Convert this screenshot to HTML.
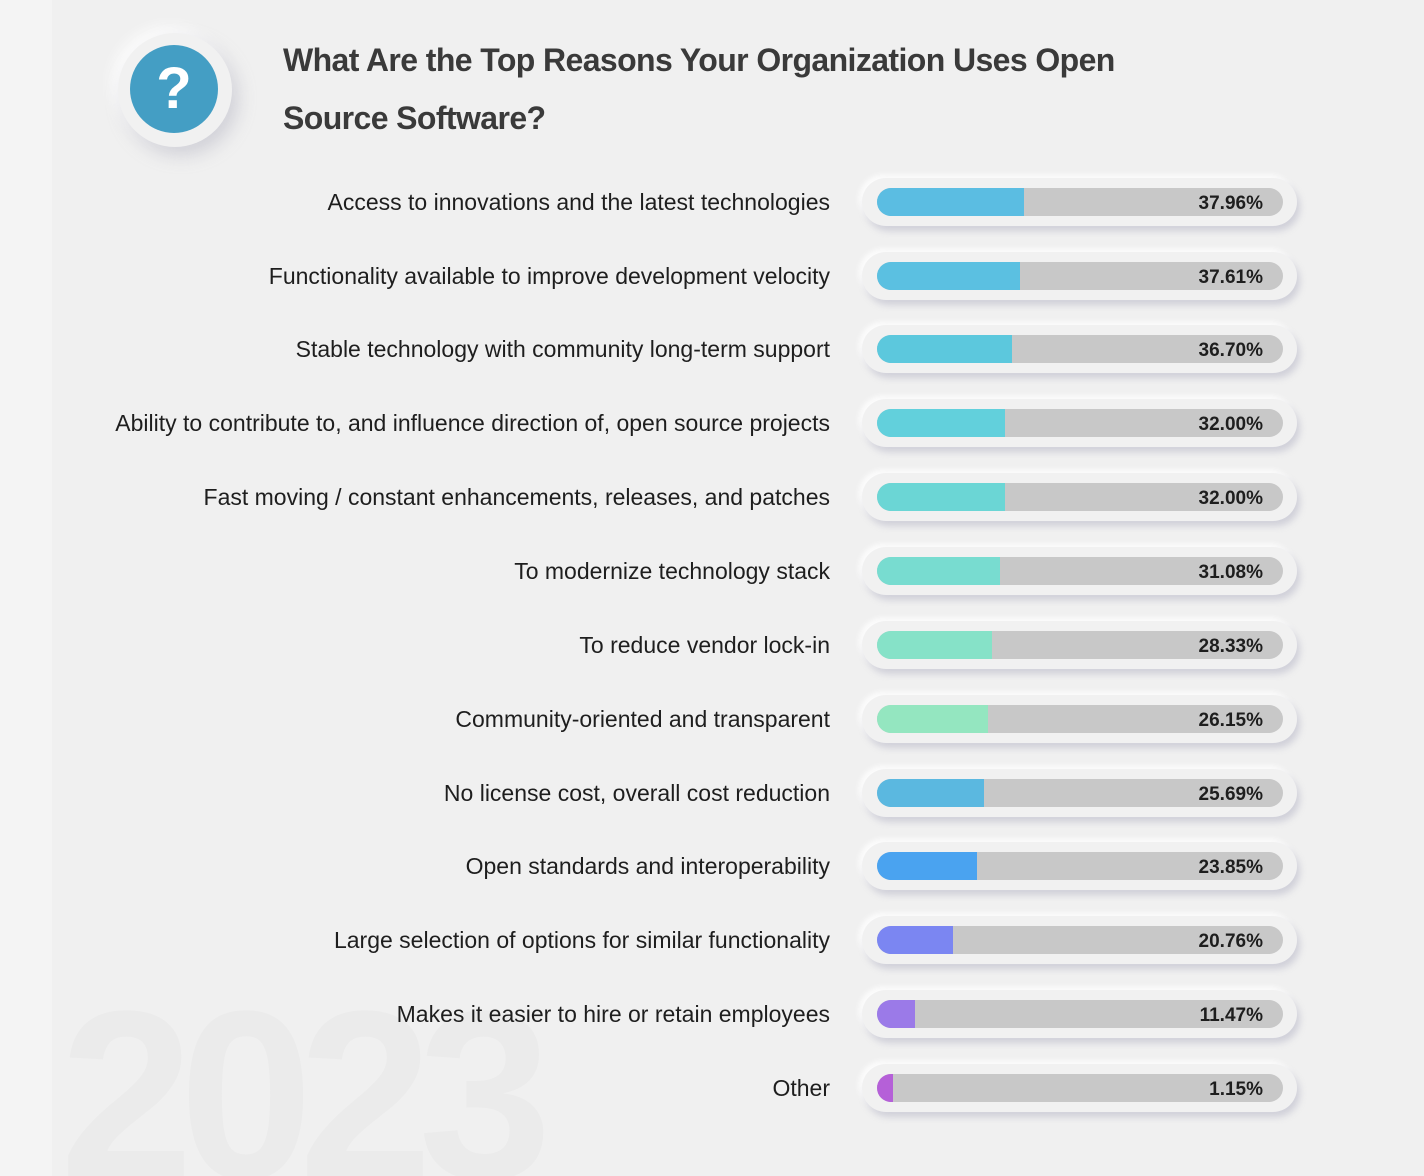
<!DOCTYPE html>
<html><head><meta charset="utf-8"><style>
html,body{margin:0;width:1424px;height:1176px;overflow:hidden;}
body{background:#f0f0f0;position:relative;font-family:"Liberation Sans",sans-serif;}
.strip{position:absolute;left:0;top:0;width:52px;height:1176px;background:#f4f4f4;}
.wm{position:absolute;left:60px;top:975px;font-size:240px;font-weight:bold;color:#ebebeb;letter-spacing:-14px;line-height:1;}
.icon-o{position:absolute;left:118px;top:33px;width:114px;height:114px;border-radius:50%;background:#f1f1f1;box-shadow:6px 8px 18px rgba(150,150,170,.35),-6px -6px 14px rgba(255,255,255,.9);}
.icon-i{position:absolute;left:130px;top:45px;width:88px;height:88px;border-radius:50%;background:#449ec4;color:#fff;font-weight:bold;font-size:58px;text-align:center;line-height:88px;}
.title{position:absolute;left:283px;top:31px;font-size:32px;font-weight:bold;color:#3a3a3a;line-height:58px;letter-spacing:-0.6px;}
.lab{position:absolute;right:594px;font-size:23px;color:#1e1e1e;white-space:nowrap;line-height:24px;}
.pill{position:absolute;left:862px;width:435px;height:48px;border-radius:24px;background:#f1f1f1;box-shadow:3px 5px 7px rgba(150,150,175,.35),-3px -3px 6px rgba(255,255,255,.9);}
.track{position:absolute;left:15px;top:10px;width:406px;height:28px;border-radius:14px;background:#c8c8c8;overflow:hidden;}
.fill{position:absolute;left:0;top:0;height:28px;}
.val{position:absolute;right:20px;top:2px;line-height:28px;font-size:19px;font-weight:bold;color:#1e1e1e;}
</style></head><body>
<div class="strip"></div>
<div class="wm">2023</div>
<div class="icon-o"></div><div class="icon-i">?</div>
<div class="title">What Are the Top Reasons Your Organization Uses Open<br>Source Software?</div>

<div class="lab" style="top:190px">Access to innovations and the latest technologies</div>
<div class="pill" style="top:178px"><div class="track"><div class="fill" style="width:147px;background:#5bbde2"></div><div class="val">37.96%</div></div></div>

<div class="lab" style="top:264px">Functionality available to improve development velocity</div>
<div class="pill" style="top:252px"><div class="track"><div class="fill" style="width:143px;background:#5bc0e1"></div><div class="val">37.61%</div></div></div>

<div class="lab" style="top:337px">Stable technology with community long-term support</div>
<div class="pill" style="top:325px"><div class="track"><div class="fill" style="width:135px;background:#5cc8dd"></div><div class="val">36.70%</div></div></div>

<div class="lab" style="top:411px">Ability to contribute to, and influence direction of, open source projects</div>
<div class="pill" style="top:399px"><div class="track"><div class="fill" style="width:128px;background:#62d0dc"></div><div class="val">32.00%</div></div></div>

<div class="lab" style="top:485px">Fast moving / constant enhancements, releases, and patches</div>
<div class="pill" style="top:473px"><div class="track"><div class="fill" style="width:128px;background:#6bd6d5"></div><div class="val">32.00%</div></div></div>

<div class="lab" style="top:559px">To modernize technology stack</div>
<div class="pill" style="top:547px"><div class="track"><div class="fill" style="width:123px;background:#78dcd0"></div><div class="val">31.08%</div></div></div>

<div class="lab" style="top:633px">To reduce vendor lock-in</div>
<div class="pill" style="top:621px"><div class="track"><div class="fill" style="width:115px;background:#86e2c8"></div><div class="val">28.33%</div></div></div>

<div class="lab" style="top:707px">Community-oriented and transparent</div>
<div class="pill" style="top:695px"><div class="track"><div class="fill" style="width:111px;background:#94e6c0"></div><div class="val">26.15%</div></div></div>

<div class="lab" style="top:781px">No license cost, overall cost reduction</div>
<div class="pill" style="top:769px"><div class="track"><div class="fill" style="width:107px;background:#5bb8e0"></div><div class="val">25.69%</div></div></div>

<div class="lab" style="top:854px">Open standards and interoperability</div>
<div class="pill" style="top:842px"><div class="track"><div class="fill" style="width:100px;background:#4aa3f0"></div><div class="val">23.85%</div></div></div>

<div class="lab" style="top:928px">Large selection of options for similar functionality</div>
<div class="pill" style="top:916px"><div class="track"><div class="fill" style="width:76px;background:#7b86f2"></div><div class="val">20.76%</div></div></div>

<div class="lab" style="top:1002px">Makes it easier to hire or retain employees</div>
<div class="pill" style="top:990px"><div class="track"><div class="fill" style="width:38px;background:#9b7ae8"></div><div class="val">11.47%</div></div></div>

<div class="lab" style="top:1076px">Other</div>
<div class="pill" style="top:1064px"><div class="track"><div class="fill" style="width:16px;background:#b560d8"></div><div class="val">1.15%</div></div></div>
</body></html>
